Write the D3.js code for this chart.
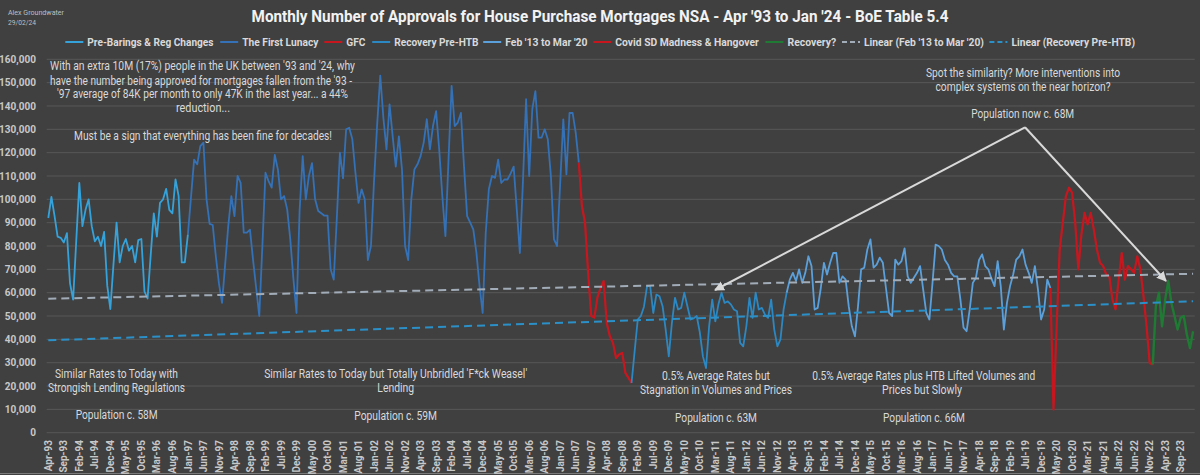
<!DOCTYPE html>
<html><head><meta charset="utf-8">
<script src="https://cdn.jsdelivr.net/npm/d3@7"></script>
<style>
html,body{margin:0;padding:0;background:#404040;}
svg{display:block;font-family:Roboto,"Noto Sans",sans-serif;}
</style></head><body>
<svg id="chart" width="1200" height="475"></svg>
<script>
// Monthly approvals (thousands), Apr-93 .. Jan-24, split by the chart's named periods
const preBarings = [ // Apr-93 .. Dec-96
 92,101,93,84,83.5,81.5,85.5,64,57,
 82,107,88.5,95.5,100,88.5,82,84,80,86,63,53,
 72,90,73,80,83,78,80,73,82.5,83,60.5,57.5,
 76,94,84,98.5,100,104.5,95.5,94,108.5,101.5,73,73];
const firstLunacy = [ // Jan-97 .. Jun-07
 85,101,117,115,122.8,124.3,100,89.5,89,75.6,64,55.6,
 72,88.5,101.4,92.8,110,107,85.7,85.7,87,74,62,50,
 80,111.4,107.8,105,119,112.8,100,101.4,95.7,82.8,66,51.3,
 95,118.5,100,110,115.5,100,95,94,93,93,70,65.6,
 92,120,109,130,130.7,125.7,111.4,98.5,104.3,100,74,80,
 108,132,153,135,121.4,140.7,127,114,127,112.8,80,74,
 100,112.8,115,118.5,124.3,134.3,121.4,131.4,137.8,121.4,101.4,84.2,
 117,148.6,131.4,132.9,137,114,92.8,90,87,77,62.8,51.3,
 85.7,104.3,110,109.2,117,107,108.5,108.5,111,114,95.7,77,
 108,142.9,110,138.6,146.4,126.4,126.4,130,125.7,110,82.8,80,
 107,134.3,110.7,137,137,128.6];
const gfc = [ // Jul-07 .. Nov-08
 115.7,97,90,68.5,50,49.3,58,62,65,47,41.3,38.5,32,33.5,34.2,25.6,23.5];
const recoveryPreHTB = [ // Dec-08 .. Jan-13
 21.3,
 35,48.5,50,54,62.8,62.8,51.3,59.2,58.5,54.2,44.2,32.7,
 47,57.8,52.8,53.5,60,54.2,48.5,49,50,43,32.7,27.7,
 45.6,57,47.7,55,60,55.6,56.3,55,52.8,52,38.5,37,
 45.6,57.8,49.2,60,52.8,53.5,50.6,49.2,57,44.2,37,40,
 52.8];
const feb13ToMar20 = [ // Feb-13 .. Feb-20
 60,65.6,68.5,65,70,64.2,68.5,75.6,71.4,52.8,53.5,
 62,72.8,67.8,72.8,77,77,64.2,67,65.6,54.2,45.6,41.3,
 54.2,70,70.7,78.5,82.8,70.7,72,75,72.8,62,51.3,50,
 74.2,72,73.5,79,67,64.2,66.4,68.5,71.4,61.3,51.3,48.5,
 64.2,80.6,80,78.5,74,72,68.5,67,67,57,45,43.5,
 52.8,64.2,66.4,74,76.4,71.4,70,66,62.8,73.5,62.8,44.2,
 55.6,62.8,67.8,74.2,75.6,78.5,72,68.5,64.2,71.4,61.3,48.5,
 52.8,65.6];
const covid = [ // Mar-20 .. Nov-22
 62,9.9,45,78.5,90,101.4,105,102.8,90,70,
 85,94.2,89.2,94.2,87,78.5,72.8,71.4,67.8,67,57,52.8,
 65.6,77,65.6,71.4,70,68.5,75.6,70,58.5,45.6,29.9];
const recovery = [ // Dec-22 .. Jan-24
 29.2,54.2,60,45.6,57,65,55.6,50,44.2,49.2,50,42,36.3,43.5];

// Linear trendlines: values (thousands) at first and last month
const trendFeb13 = [57.4, 68.1];
const trendRecoveryPreHTB = [39.6, 56.3];

const monthNames = ["Jan","Feb","Mar","Apr","May","Jun","Jul","Aug","Sep","Oct","Nov","Dec"];
const nMonths = preBarings.length+firstLunacy.length+gfc.length+recoveryPreHTB.length+feb13ToMar20.length+covid.length+recovery.length;
const categories = d3.range(nMonths).map(i=>{const t=3+i;return monthNames[t%12]+"-"+String((93+Math.floor(t/12))%100).padStart(2,"0");});
const yTickValues = [0,10,20,30,40,50,60,70,80,90,100,110,120,130,140,150,160];
const yTickLabels = ["0","10,000","20,000","30,000","40,000","50,000","60,000","70,000","80,000","90,000","100,000","110,000","120,000","130,000","140,000","150,000","160,000"];
const legendLabels = ["Pre-Barings & Reg Changes","The First Lunacy","GFC","Recovery Pre-HTB","Feb '13 to Mar '20","Covid SD Madness & Hangover","Recovery?","Linear (Feb '13 to Mar '20)","Linear (Recovery Pre-HTB)"];

// ---------- drawing ----------
const svg = d3.select("#chart");
const txtCol = "#d9d9d9";
svg.append("rect").attr("width",1200).attr("height",475).attr("fill","#404040");
svg.append("line").attr("x1",0).attr("x2",1200).attr("y1",473.5).attr("y2",473.5).attr("stroke","#7a7a7a").attr("stroke-width",1);

const x = d3.scaleLinear().domain([0, nMonths-1]).range([48.3, 1193.1]);
const y = d3.scaleLinear().domain([0,160]).range([432.7, 59.3]);
const plotL = 46.7, plotR = 1194.7;

// gridlines
svg.append("g").selectAll("line").data(yTickValues).join("line")
 .attr("x1",plotL).attr("x2",plotR).attr("y1",d=>y(d)).attr("y2",d=>y(d))
 .attr("stroke","#575757").attr("stroke-width",1);

// y labels
svg.append("g").selectAll("text").data(yTickValues).join("text")
 .attr("x",36).attr("y",d=>y(d)+3.6).attr("text-anchor","end")
 .attr("font-size",10).attr("font-weight","bold").attr("fill","#c8c8c8")
 .text((d,i)=>yTickLabels[i]);

// x labels
const xTicks = d3.range(0,nMonths,5);
svg.append("g").selectAll("text").data(xTicks).join("text")
 .attr("transform",d=>`translate(${x(d)+3.6},440) rotate(-90)`)
 .attr("text-anchor","end").attr("font-size",10).attr("font-weight","bold").attr("fill","#c8c8c8")
 .text(d=>categories[d]);

// series
const segDefs = [
 {vals:preBarings, color:"#35A2DA", w:1.8},
 {vals:firstLunacy, color:"#3471B6", w:1.8},
 {vals:gfc, color:"#C8161E", w:2.2},
 {vals:recoveryPreHTB, color:"#2C88C2", w:1.8},
 {vals:feb13ToMar20, color:"#5BA0DA", w:1.8},
 {vals:covid, color:"#C8161E", w:2.2},
 {vals:recovery, color:"#1F7A33", w:2.4}
];
let start = 0;
const all = [];
segDefs.forEach(s=>{ s.start=start; s.vals.forEach(v=>all.push(v)); start+=s.vals.length; });
const line = d3.line().x(d=>x(d.i)).y(d=>y(d.v));
segDefs.forEach((s,k)=>{
  const end = k<segDefs.length-1 ? s.start+s.vals.length : s.start+s.vals.length-1;
  const pts = d3.range(s.start, end+1).map(i=>({i, v:all[i]}));
  svg.append("path").attr("d",line(pts)).attr("fill","none")
    .attr("stroke",s.color).attr("stroke-width",s.w).attr("stroke-linejoin","round");
});

// trendlines
const trends = [
 {vals:trendFeb13, color:"#A1ACB8"},
 {vals:trendRecoveryPreHTB, color:"#2C90C8"}
];
trends.forEach(t=>{
  svg.append("line").attr("x1",x(0)).attr("x2",x(nMonths-1))
   .attr("y1",y(t.vals[0])).attr("y2",y(t.vals[1]))
   .attr("stroke",t.color).attr("stroke-width",2).attr("stroke-dasharray","8,5");
});

// arrows
const defs = svg.append("defs");
defs.append("marker").attr("id","arr").attr("viewBox","0 0 10 10").attr("refX",9).attr("refY",5)
 .attr("markerWidth",5).attr("markerHeight",5).attr("orient","auto")
 .append("path").attr("d","M0,0 L10,5 L0,10 z").attr("fill",txtCol);
[[715,290],[1166,281]].forEach(p=>{
  svg.append("line").attr("x1",1025).attr("y1",127.3).attr("x2",p[0]).attr("y2",p[1])
   .attr("stroke",txtCol).attr("stroke-width",2).attr("marker-end","url(#arr)");
});

// text helper
function fit(str, cx, yc, w, size, opts={}){
  const t = svg.append("text").attr("x",cx).attr("y",yc+size*0.36)
   .attr("text-anchor",opts.anchor||"middle").attr("font-size",size)
   .attr("fill",opts.fill||txtCol).attr("font-weight",opts.weight||"normal").text(str);
  if (w) t.attr("textLength",w).attr("lengthAdjust","spacingAndGlyphs");
  return t;
}

// title & author
fit("Monthly Number of Approvals for House Purchase Mortgages NSA - Apr '93 to Jan '24 - BoE Table 5.4",600,16,697,17,{weight:"bold",fill:"#f2f2f2"});
fit("Alex Groundwater",8,12,56,8,{anchor:"start",fill:"#bfbfbf"});
fit("29/02/24",8,22,28,8,{anchor:"start",fill:"#bfbfbf"});

// legend
const legTextStart = [87.3,242.2,346.3,394.2,505.2,615.3,787.5,864,1011.4];
const legTextW = [126.2,76.2,19.2,84.2,82.3,143.5,48.6,119.9,123.6];
const legColors = ["#35A2DA","#3471B6","#C8161E","#2C88C2","#5BA0DA","#C8161E","#1F7A33","#A1ACB8","#2C90C8"];
const legY = 42;
legendLabels.forEach((lab,k)=>{
  const xs = legTextStart[k];
  const ln = svg.append("line").attr("x1",xs-22).attr("x2",xs-4).attr("y1",legY).attr("y2",legY)
    .attr("stroke",legColors[k]).attr("stroke-width",2);
  if (k>=7) ln.attr("stroke-dasharray","5,3");
  fit(lab, xs, legY, legTextW[k], 11.5, {anchor:"start",weight:"bold"});
});

// annotations
const notes = [
 ["With an extra 10M (17%) people in the UK between '93 and '24, why",202.5,65.7,305],
 ["have the number being approved for mortgages fallen from the '93 -",201,80,302],
 ["'97 average of 84K per month to only 47K in the last year... a 44%",202.5,93.7,291],
 ["reduction...",203,107.3,54],
 ["Must be a sign that everything has been fine for decades!",203,135.7,258],
 ["Similar Rates to Today with",116.5,373.3,123],
 ["Strongish Lending Regulations",116.5,387,137],
 ["Population c. 58M",116.7,414.7,82],
 ["Similar Rates to Today but Totally Unbridled 'F*ck Weasel'",395.7,373.5,263],
 ["Lending",395.7,387.7,36.7],
 ["Population c. 59M",395.7,415.3,82.7],
 ["0.5% Average Rates but",716,375.7,108],
 ["Stagnation in Volumes and Prices",716,389.3,152],
 ["Population c. 63M",716,417.3,82],
 ["0.5% Average Rates plus HTB Lifted Volumes and",923.7,375.7,223],
 ["Prices but Slowly",922,389.7,80],
 ["Population c. 66M",924,417,82],
 ["Spot the similarity? More interventions into",1023,72.7,194],
 ["complex systems on the near horizon?",1023,86,175],
 ["Population now c. 68M",1022.7,113.3,103]
];
notes.forEach(n=>fit(n[0],n[1],n[2],n[3],12.5));
</script>
</body></html>
